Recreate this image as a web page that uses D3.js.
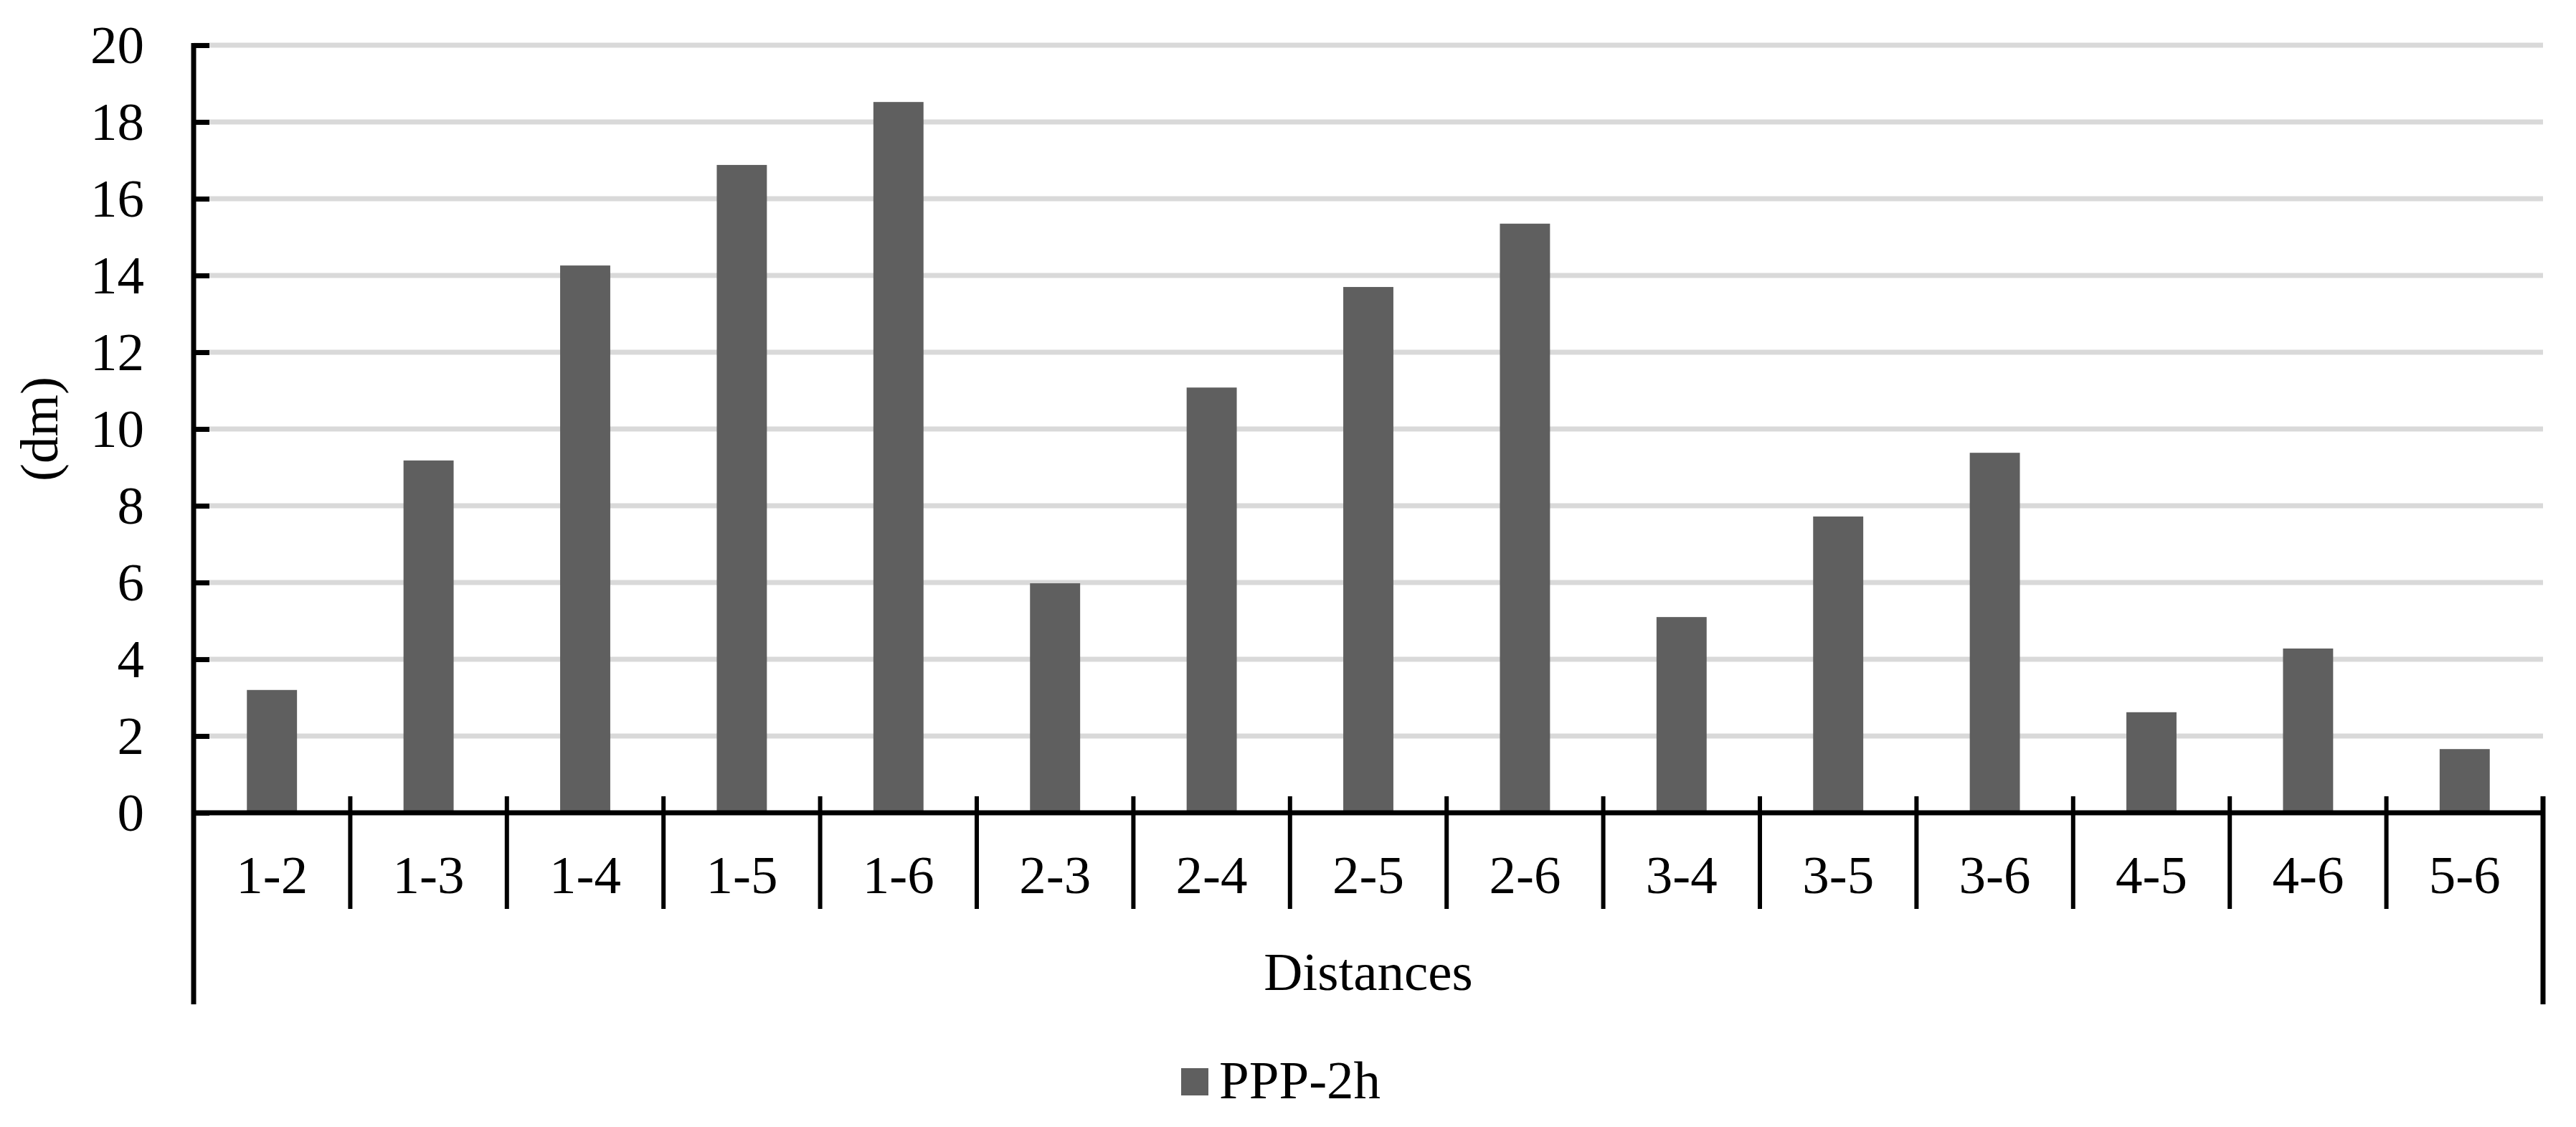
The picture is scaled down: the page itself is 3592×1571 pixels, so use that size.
<!DOCTYPE html>
<html>
<head>
<meta charset="utf-8">
<script src="https://cdn.jsdelivr.net/npm/d3@7"></script>
<style>
  body { margin: 0; background: #fff; }
  text { font-family: 'Liberation Serif', 'Times New Roman', serif; fill: #000; }
</style>
</head>
<body>
<script>
let categories = ['1-2', '1-3', '1-4', '1-5', '1-6', '2-3', '2-4', '2-5', '2-6', '3-4', '3-5', '3-6', '4-5', '4-6', '5-6']
let values = [3.2, 9.18, 14.26, 16.88, 18.52, 5.98, 11.08, 13.7, 15.35, 5.1, 7.72, 9.38, 2.62, 4.28, 1.66]
let yTicks = [0, 2, 4, 6, 8, 10, 12, 14, 16, 18, 20]
let seriesName = 'PPP-2h'
let xTitle = 'Distances'
let yTitle = '(dm)'

let width = 3592,
  height = 1571,
  plotLeft = 270,
  plotRight = 3546,
  plotTop = 63,
  plotBottom = 1133,
  fontSize = 75,
  barColor = '#5f5f5f',
  gridColor = '#d9d9d9'

let svg = d3.select('body').append('svg')
  .attr('width', width)
  .attr('height', height)

svg.append('rect').attr('width', width).attr('height', height).attr('fill', '#fff')

let x = d3.scaleBand()
  .domain(categories)
  .range([plotLeft, plotRight])
  .padding(0)

let y = d3.scaleLinear()
  .domain([0, 20])
  .range([plotBottom, plotTop])

// gridlines
svg.append('g')
  .selectAll('line')
  .data(yTicks.filter(d => d > 0))
  .enter()
  .append('line')
  .attr('x1', plotLeft)
  .attr('x2', plotRight)
  .attr('y1', d => y(d))
  .attr('y2', d => y(d))
  .attr('stroke', gridColor)
  .attr('stroke-width', 7)

// bars
let barW = x.bandwidth() * 0.32
svg.append('g')
  .selectAll('rect')
  .data(values)
  .enter()
  .append('rect')
  .attr('x', (d, i) => x(categories[i]) + (x.bandwidth() - barW) / 2)
  .attr('y', d => y(d))
  .attr('width', barW)
  .attr('height', d => y(0) - y(d))
  .attr('fill', barColor)

// y axis
let axisY = d3.axisLeft(y)
  .tickValues(yTicks)
  .tickSizeInner(-22)
  .tickSizeOuter(0)
  .tickPadding(69)

let gy = svg.append('g')
  .attr('transform', 'translate(' + plotLeft + ',0)')
  .call(axisY)
gy.select('.domain').remove()
gy.selectAll('.tick line').attr('stroke', '#000').attr('stroke-width', 7)
gy.selectAll('.tick text')
  .style('font-size', fontSize + 'px')
  .style('font-family', "'Liberation Serif', 'Times New Roman', serif")

// x axis labels
let axisX = d3.axisBottom(x)
  .tickSize(0)
  .tickPadding(59)

let gx = svg.append('g')
  .attr('transform', 'translate(0,' + plotBottom + ')')
  .call(axisX)
gx.select('.domain').remove()
gx.selectAll('.tick text')
  .style('font-size', fontSize + 'px')
  .style('font-family', "'Liberation Serif', 'Times New Roman', serif")

// separators between categories
let bounds = d3.range(1, categories.length)
svg.append('g')
  .selectAll('line')
  .data(bounds)
  .enter()
  .append('line')
  .attr('x1', i => x(categories[i]))
  .attr('x2', i => x(categories[i]))
  .attr('y1', plotBottom - 23)
  .attr('y2', 1267)
  .attr('stroke', '#000')
  .attr('stroke-width', 6)

// outer frame lines
let lines = svg.append('g').attr('stroke', '#000').attr('stroke-width', 7)
lines.append('line').attr('x1', plotLeft).attr('x2', plotLeft).attr('y1', plotTop - 3).attr('y2', 1400)
lines.append('line').attr('x1', plotRight).attr('x2', plotRight).attr('y1', plotBottom - 23).attr('y2', 1400)
lines.append('line').attr('x1', plotLeft).attr('x2', plotRight).attr('y1', plotBottom).attr('y2', plotBottom)

// axis titles
svg.append('text')
  .attr('x', (plotLeft + plotRight) / 2)
  .attr('y', 1380)
  .attr('text-anchor', 'middle')
  .style('font-size', fontSize + 'px')
  .text(xTitle)

svg.append('text')
  .attr('transform', 'translate(80,' + ((plotTop + plotBottom) / 2) + ') rotate(-90)')
  .attr('text-anchor', 'middle')
  .style('font-size', fontSize + 'px')
  .text(yTitle)

// legend
let legend = svg.append('g').attr('transform', 'translate(1647,1489)')
legend.append('rect')
  .attr('width', 38)
  .attr('height', 38)
  .attr('fill', barColor)
legend.append('text')
  .attr('x', 53)
  .attr('y', 42)
  .style('font-size', fontSize + 'px')
  .text(seriesName)
</script>
</body>
</html>
